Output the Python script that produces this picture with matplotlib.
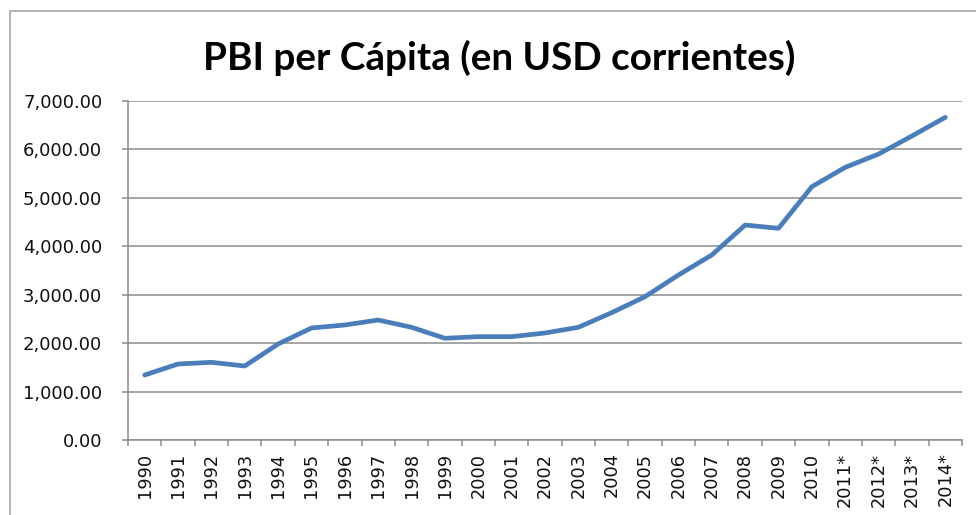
import matplotlib
matplotlib.use('Agg')
import matplotlib.pyplot as plt
from matplotlib.patches import Rectangle
from matplotlib.ticker import FuncFormatter, FixedLocator

years = ['1990', '1991', '1992', '1993', '1994', '1995', '1996', '1997', '1998', '1999',
         '2000', '2001', '2002', '2003', '2004', '2005', '2006', '2007', '2008', '2009',
         '2010', '2011*', '2012*', '2013*', '2014*']
pbi = [1342, 1569, 1604, 1528, 1982, 2313, 2375, 2478, 2327, 2100,
       2134, 2134, 2210, 2327, 2629, 2960, 3407, 3820, 4439, 4371,
       5231, 5630, 5905, 6277, 6663]
y_ticks = [0, 1000, 2000, 3000, 4000, 5000, 6000, 7000]

W, H = 976, 515
fig = plt.figure(figsize=(W / 100, H / 100), dpi=100)
fig.patch.set_facecolor('white')

# outer chart frame (only left and top visible in the screenshot)
fig.patches.append(Rectangle((10 / W, -0.1), 1.2, 1 - 11 / H + 0.1,
                             transform=fig.transFigure, fill=False,
                             edgecolor='#a6a6a6', linewidth=1.2))

ax = fig.add_axes([128 / W, 1 - 440 / H, (962 - 128) / W, (440 - 101) / H])

x = list(range(len(years)))
ax.plot(x, pbi, color='#4a7ebb', linewidth=3.4, solid_capstyle='round', zorder=3)

ax.set_xlim(-0.5, len(years) - 0.5)
ax.set_ylim(0, 7000)
ax.set_yticks(y_ticks)
ax.yaxis.set_major_formatter(FuncFormatter(lambda v, p: f'{v:,.2f}'))
ax.set_xticks(x)
ax.set_xticklabels(years, rotation=90, va='top')
ax.xaxis.set_minor_locator(FixedLocator([i - 0.5 for i in range(len(years) + 1)]))

ax.grid(axis='y', color='#8c8c8c', linewidth=1.1)
ax.set_axisbelow(True)

for s in ['top', 'right']:
    ax.spines[s].set_visible(False)
for s in ['left', 'bottom']:
    ax.spines[s].set_color('#8c8c8c')
    ax.spines[s].set_linewidth(1.1)

ax.tick_params(axis='y', length=4.5, color='#8c8c8c', width=1.1, pad=14,
               labelsize=13, labelcolor='#111111')
ax.tick_params(axis='x', which='major', length=0, pad=9,
               labelsize=12.8, labelcolor='#111111')
ax.tick_params(axis='x', which='minor', length=4.5, color='#8c8c8c', width=1.1)

fig.text(0.511, 1 - 70 / H, 'PBI per Cápita (en USD corrientes)', ha='center', va='baseline',
         fontsize=27.8, fontweight='bold', family=['Lato', 'DejaVu Sans'], color='black')

fig.savefig('out.png', dpi=100)
